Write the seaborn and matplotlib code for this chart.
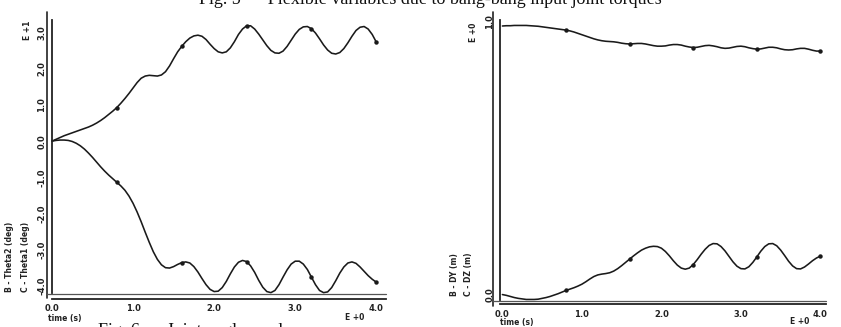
import numpy as np
import pandas as pd
import seaborn as sns
import matplotlib.pyplot as plt
from matplotlib.lines import Line2D

sns.set_theme(style="white")
plt.rcParams['font.family'] = ['DejaVu Sans']

# time grid (s)
time_s = [round(0.05 * i, 2) for i in range(81)]

theta1 = [0.00, 0.05, 0.10, 0.15, 0.19, 0.23, 0.27, 0.31, 0.35, 0.39,
          0.44, 0.50, 0.57, 0.65, 0.74, 0.83, 0.93, 1.05, 1.18, 1.32,
          1.47, 1.62, 1.74, 1.80, 1.82, 1.81, 1.80, 1.83, 1.92, 2.08,
          2.28, 2.47, 2.62, 2.75, 2.85, 2.91, 2.93, 2.90, 2.81, 2.68,
          2.56, 2.47, 2.44, 2.47, 2.58, 2.75, 2.95, 3.10, 3.19, 3.19,
          3.10, 2.96, 2.80, 2.64, 2.51, 2.44, 2.43, 2.49, 2.62, 2.79,
          2.96, 3.09, 3.16, 3.17, 3.11, 2.99, 2.83, 2.66, 2.52, 2.43,
          2.41, 2.45, 2.56, 2.72, 2.90, 3.06, 3.15, 3.17, 3.10, 2.95,
          2.74]

theta2 = [0.00, 0.02, 0.03, 0.03, 0.02, -0.01, -0.06, -0.13, -0.22, -0.33,
          -0.45, -0.58, -0.71, -0.83, -0.94, -1.04, -1.14, -1.24, -1.36, -1.52,
          -1.72, -1.96, -2.23, -2.52, -2.80, -3.06, -3.27, -3.42, -3.50, -3.51,
          -3.47, -3.41, -3.36, -3.34, -3.37, -3.47, -3.62, -3.80, -3.97, -4.10,
          -4.16, -4.15, -4.05, -3.88, -3.67, -3.48, -3.35, -3.30, -3.33, -3.45,
          -3.63, -3.85, -4.04, -4.16, -4.19, -4.13, -3.97, -3.76, -3.56, -3.40,
          -3.32, -3.32, -3.40, -3.55, -3.76, -3.97, -4.13, -4.19, -4.17, -4.05,
          -3.86, -3.65, -3.48, -3.37, -3.34, -3.38, -3.48, -3.60, -3.72, -3.82,
          -3.90]

dz = [0.985, 0.986, 0.986, 0.987, 0.987, 0.987, 0.987, 0.986, 0.985, 0.984,
      0.982, 0.980, 0.978, 0.976, 0.974, 0.972, 0.970, 0.967, 0.963, 0.958,
      0.953, 0.948, 0.943, 0.938, 0.934, 0.931, 0.929, 0.928, 0.927, 0.925,
      0.922, 0.920, 0.919, 0.920, 0.921, 0.921, 0.919, 0.916, 0.913, 0.911,
      0.911, 0.912, 0.915, 0.917, 0.917, 0.915, 0.911, 0.908, 0.906, 0.907,
      0.910, 0.913, 0.914, 0.912, 0.909, 0.905, 0.903, 0.904, 0.907, 0.910,
      0.911, 0.909, 0.905, 0.902, 0.900, 0.901, 0.904, 0.907, 0.907, 0.905,
      0.901, 0.898, 0.897, 0.898, 0.901, 0.903, 0.903, 0.900, 0.896, 0.893,
      0.893]

dy = [0.000, -0.003, -0.007, -0.011, -0.014, -0.016, -0.018, -0.018, -0.018, -0.017,
      -0.014, -0.011, -0.007, -0.002, 0.003, 0.009, 0.015, 0.020, 0.025, 0.031,
      0.038, 0.047, 0.057, 0.066, 0.072, 0.075, 0.077, 0.080, 0.086, 0.095,
      0.106, 0.118, 0.130, 0.142, 0.153, 0.163, 0.170, 0.175, 0.177, 0.176,
      0.170, 0.158, 0.142, 0.124, 0.108, 0.097, 0.093, 0.097, 0.110, 0.128,
      0.148, 0.166, 0.180, 0.187, 0.186, 0.176, 0.160, 0.140, 0.120, 0.104,
      0.095, 0.094, 0.102, 0.118, 0.138, 0.159, 0.176, 0.186, 0.187, 0.179,
      0.163, 0.143, 0.122, 0.105, 0.095, 0.094, 0.101, 0.112, 0.124, 0.134,
      0.141]

x_ticks = [0.0, 1.0, 2.0, 3.0, 4.0]
x_tick_labels = ["0.0", "1.0", "2.0", "3.0", "4.0"]
left_y_ticks = [-4.0, -3.0, -2.0, -1.0, 0.0, 1.0, 2.0, 3.0]
left_y_labels = ["-4.0", "-3.0", "-2.0", "-1.0", "0.0", "1.0", "2.0", "3.0"]
right_y_ticks = [0.0, 1.0]
right_y_labels = ["0.0", "1.0"]

df = pd.DataFrame({"t": time_s, "theta1": theta1, "theta2": theta2,
                   "dz": dz, "dy": dy})

W, H = 841, 327
fig = plt.figure(figsize=(W / 100, H / 100), dpi=100)
fig.patch.set_facecolor("white")


def px_axes(l, t, r, b):
    return fig.add_axes([l / W, 1 - b / H, (r - l) / W, (b - t) / H])


axL = px_axes(52, 20, 386, 293)
axR = px_axes(500, 20, 826, 300)

marks = [16, 32, 48, 64, 80]
lw = 1.15
for ax, cols in ((axL, ("theta1", "theta2")), (axR, ("dz", "dy"))):
    for c in cols:
        sns.lineplot(data=df, x="t", y=c, ax=ax, color="#1a1a1a", lw=lw,
                     marker="o", markersize=3.2, markevery=marks,
                     markeredgewidth=0, clip_on=False)

axL.set_xlim(0.02, 4.12)
axL.set_ylim(-4.2, 3.35)
axR.set_xlim(-0.03, 4.07)
axR.set_ylim(-0.02, 1.007)

for ax, yt, yl, dx, off in ((axL, left_y_ticks, left_y_labels, -0.015, 4),
                            (axR, right_y_ticks, right_y_labels, -0.021, 3)):
    ax.set_xticks(x_ticks)
    ax.set_xticklabels(x_tick_labels)
    ax.set_yticks(yt)
    ax.set_yticklabels(yl, rotation=90, va="center")
    ax.set_xlabel("")
    ax.set_ylabel("")
    for s in ("top", "right"):
        ax.spines[s].set_visible(False)
    for s in ("left", "bottom"):
        ax.spines[s].set_color("#222222")
        ax.spines[s].set_linewidth(1.3)
    ax.spines["bottom"].set_position(("outward", off))
    ax.tick_params(axis="both", which="both", labelsize=6, direction="out",
                   length=2.5, width=0.8, color="#333333", pad=1.5)
    for lab in ax.get_xticklabels() + ax.get_yticklabels():
        lab.set_fontweight("bold")
        lab.set_color("#222222")
    # doubled axis lines typical of the plotter output
    ax.add_line(Line2D([dx, dx], [-0.02, 1.03], transform=ax.transAxes,
                       color="#222222", lw=1.2, clip_on=False))
    ax.add_line(Line2D([dx, 1.0], [-0.003, -0.003], transform=ax.transAxes,
                       color="#555555", lw=0.9, clip_on=False))

# axis captions (rotated)
txt = dict(fontsize=5.5, fontweight="bold", color="#222222", rotation=90,
           ha="center", va="bottom")
fig.text(10 / W, 1 - 292 / H, "B - Theta2 (deg)", **txt)
fig.text(25 / W, 1 - 292 / H, "C - Theta1 (deg)", **txt)
fig.text(28 / W, 1 - 40 / H, "E +1", **txt)
fig.text(455 / W, 1 - 296 / H, "B - DY (m)", **txt)
fig.text(469 / W, 1 - 296 / H, "C - DZ (m)", **txt)
fig.text(473 / W, 1 - 42 / H, "E +0", **txt)

htxt = dict(fontsize=5.5, fontweight="bold", color="#222222", ha="left",
            va="center")
fig.text(48 / W, 1 - 318 / H, "time (s)", **htxt)
fig.text(500 / W, 1 - 322.5 / H, "time (s)", **htxt)
fig.text(345 / W, 1 - 318 / H, "E +0", **htxt)
fig.text(790 / W, 1 - 322 / H, "E +0", **htxt)

serif = ["Liberation Serif", "DejaVu Serif"]
fig.text(430 / W, 1 - 0 / H,
         "Fig. 5 \u2014 Flexible variables due to bang-bang input joint torques",
         fontsize=13, family=serif, ha="center", va="center", color="#111111")
fig.text(98 / W, 1 - 331 / H, "Fig. 6 \u2014 Joint angles and",
         fontsize=13, family=serif, ha="left", va="center", color="#111111")

fig.savefig("out.png", dpi=100, facecolor="white")
